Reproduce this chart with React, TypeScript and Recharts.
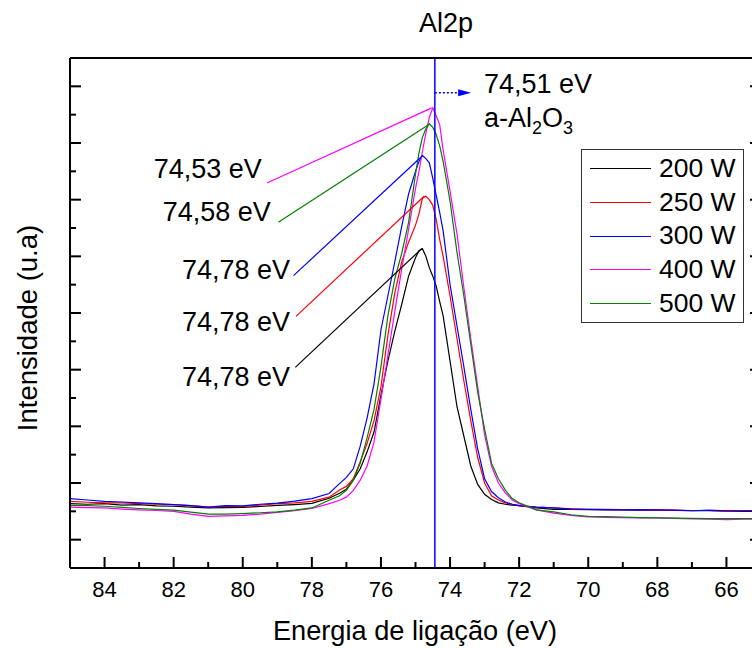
import React from 'react';
import { LineChart, Line, XAxis, YAxis, ReferenceLine, ReferenceDot } from 'recharts';

// binding energy grid (eV)
const energy = [
  85, 84.5, 84, 83.5, 83, 82.5, 82, 81.5, 81, 80.5, 80, 79.5, 79, 78.5, 78, 77.5, 77.2, 77, 76.8, 76.6,
  76.4, 76.2, 76, 75.8, 75.6, 75.4, 75.2, 75, 74.9, 74.8, 74.7, 74.6, 74.5, 74.4, 74.3, 74.2, 74, 73.8,
  73.6, 73.4, 73.2, 73, 72.8, 72.6, 72.4, 72.2, 72, 71.5, 71, 70.5, 70, 69.5, 69, 68.5, 68, 67.5, 67,
  66.5, 66, 65.5, 65,
];

const w200 = [
  2.27, 2.25, 2.27, 2.22, 2.24, 2.19, 2.18, 2.15, 2.12, 2.13, 2.14, 2.17, 2.21, 2.24, 2.28, 2.46, 2.64, 2.78, 3.1, 3.5,
  4.1, 4.8, 6.1, 7.3, 8.35, 9.3, 10.3, 10.95, 11.2, 11.27, 11.0, 10.6, 10.3, 9.95, 9.4, 8.9, 7.3, 5.7,
  4.65, 3.6, 2.95, 2.6, 2.42, 2.3, 2.25, 2.22, 2.2, 2.12, 2.07, 2.07, 2.06, 2.05, 2.05, 2.04, 2.04, 2.03, 2.02,
  2.02, 2.01, 2.0, 2.0,
];

const w250 = [
  2.35, 2.32, 2.3, 2.3, 2.27, 2.25, 2.24, 2.2, 2.15, 2.18, 2.17, 2.22, 2.27, 2.3, 2.35, 2.5, 2.75, 2.88, 3.15, 3.75,
  4.4, 5.2, 6.4, 8.2, 9.7, 10.8, 11.5, 12.1, 12.5, 13.05, 13.12, 13.0, 12.8, 12.3, 11.6, 11.0, 9.6, 8.1,
  6.6, 5.2, 3.9, 3.0, 2.55, 2.4, 2.3, 2.25, 2.2, 2.15, 2.12, 2.09, 2.07, 2.07, 2.06, 2.05, 2.04, 2.04, 2.03,
  2.03, 2.01, 2.02, 2.02,
];

const w300 = [
  2.45, 2.4, 2.35, 2.33, 2.3, 2.27, 2.24, 2.2, 2.15, 2.2, 2.19, 2.25, 2.29, 2.36, 2.45, 2.63, 2.98, 3.2, 3.5, 4.3,
  5.3, 6.5, 8.4, 9.6, 10.8, 12.05, 13.2, 14.0, 14.35, 14.56, 14.45, 14.3, 13.75, 13.15, 12.55, 11.9, 10.0, 8.55,
  7.1, 5.6, 4.2, 3.15, 2.7, 2.48, 2.33, 2.25, 2.2, 2.15, 2.12, 2.08, 2.07, 2.06, 2.05, 2.06, 2.05, 2.04, 2.02,
  2.04, 2.02, 2.02, 2.02,
];

const w400 = [
  2.15, 2.13, 2.12, 2.08, 2.05, 2.03, 2.0, 1.9, 1.82, 1.84, 1.86, 1.9, 1.96, 2.02, 2.1, 2.27, 2.39, 2.5, 2.74, 3.1,
  3.6, 4.45, 5.95, 7.5, 9.05, 10.55, 11.95, 13.4, 14.0, 14.7, 15.35, 15.9, 16.24, 15.95, 15.65, 14.75, 13.3, 11.8,
  9.9, 8.1, 6.4, 4.7, 3.6, 3.0, 2.65, 2.4, 2.27, 2.05, 1.94, 1.86, 1.8, 1.79, 1.78, 1.77, 1.77, 1.75, 1.73,
  1.72, 1.71, 1.72, 1.72,
];

const w500 = [
  2.21, 2.2, 2.18, 2.14, 2.1, 2.07, 2.04, 1.97, 1.9, 1.9, 1.92, 1.95, 1.98, 2.04, 2.12, 2.39, 2.55, 2.74, 3.1, 3.7,
  4.6, 5.6, 7.1, 8.9, 10.2, 11.1, 12.2, 13.9, 14.65, 15.2, 15.5, 15.68, 15.55, 15.3, 14.9, 14.35, 12.95, 11.15,
  9.6, 7.9, 6.2, 4.9, 3.7, 3.15, 2.75, 2.45, 2.3, 2.05, 1.98, 1.88, 1.82, 1.81, 1.8, 1.78, 1.77, 1.76, 1.75,
  1.74, 1.74, 1.74, 1.74,
];

const xTicks = [66, 67, 68, 69, 70, 71, 72, 73, 74, 75, 76, 77, 78, 79, 80, 81, 82, 83, 84];
const yTicks = [1, 2, 3, 4, 5, 6, 7, 8, 9, 10, 11, 12, 13, 14, 15, 16, 17];

// peak annotations
const peakText = ['74,53 eV', '74,58 eV', '74,78 eV', '74,78 eV', '74,78 eV'];
const peakE = [74.53, 74.58, 74.79, 74.75, 74.82];
const peakI = [16.24, 15.68, 14.56, 13.12, 11.27];
const leaderE = [79.3, 78.97, 78.53, 78.46, 78.48];
const leaderI = [13.59, 12.2, 10.32, 8.88, 7.08];
const textE = [79.45, 79.19, 78.63, 78.63, 78.63];
const textI = [13.77, 12.24, 10.2, 8.37, 6.43];
const peakColor = ['#ff00ff', '#008000', '#0000ff', '#ff0000', '#000000'];

const refEnergy = 74.44;

const series = [
  { key: 'w200', name: '200 W', color: '#000000', values: w200 },
  { key: 'w250', name: '250 W', color: '#ff0000', values: w250 },
  { key: 'w300', name: '300 W', color: '#0000ff', values: w300 },
  { key: 'w400', name: '400 W', color: '#ff00ff', values: w400 },
  { key: 'w500', name: '500 W', color: '#008000', values: w500 },
];

const chartData = energy.map((e, i) => {
  const row: any = { e };
  series.forEach((s) => (row[s.key] = s.values[i]));
  return row;
});

const FONT = '"Liberation Sans", Arial, sans-serif';

// plot box in px, used only to drop stray ticks outside the frame
const PLOT_LEFT = 69;
const PLOT_TOP = 56;

const BottomTick = (props: any) => {
  const { x, y, payload } = props;
  if (!(x > PLOT_LEFT)) return <g />;
  const major = payload.value % 2 === 0;
  return (
    <g>
      <line x1={x} x2={x} y1={y} y2={y - (major ? 11 : 6)} stroke="#000" strokeWidth={2} />
      {major && (
        <text x={x} y={y + 29} textAnchor="middle" fontSize={22} fill="#000" fontFamily={FONT}>
          {payload.value}
        </text>
      )}
    </g>
  );
};

const TopTick = (props: any) => {
  const { x, y, payload } = props;
  if (!(x > PLOT_LEFT)) return <g />;
  const major = payload.value % 2 === 0;
  return <line x1={x} x2={x} y1={y} y2={y + (major ? 11 : 6)} stroke="#000" strokeWidth={2} />;
};

const LeftTick = (props: any) => {
  const { x, y, payload } = props;
  if (!(y > PLOT_TOP)) return <g />;
  const major = payload.value % 2 === 1;
  return <line x1={x} x2={x + (major ? 11 : 6)} y1={y} y2={y} stroke="#000" strokeWidth={2} />;
};

const RightTick = (props: any) => {
  const { x, y, payload } = props;
  if (!(y > PLOT_TOP)) return <g />;
  const major = payload.value % 2 === 1;
  return <line x1={x} x2={x - (major ? 11 : 6)} y1={y} y2={y} stroke="#000" strokeWidth={2} />;
};

export default function App() {
  return (
    <div
      style={{
        position: 'fixed',
        left: 0,
        top: 0,
        width: 752,
        height: 648,
        overflow: 'hidden',
        background: '#fff',
        fontFamily: FONT,
      }}
    >
      <LineChart width={780} height={648} data={chartData} margin={{ top: 57, right: 0, bottom: 0, left: 0 }}>
        <XAxis
          dataKey="e"
          type="number"
          domain={[65, 85]}
          reversed
          allowDataOverflow
          ticks={xTicks}
          interval={0}
          tickSize={0}
          tickMargin={0}
          tick={<BottomTick />}
          axisLine={{ stroke: '#000', strokeWidth: 2 }}
          height={80}
        />
        <XAxis
          xAxisId="top"
          orientation="top"
          type="number"
          domain={[65, 85]}
          reversed
          allowDataOverflow
          ticks={xTicks}
          interval={0}
          tickSize={0}
          tickMargin={0}
          tick={<TopTick />}
          axisLine={{ stroke: '#000', strokeWidth: 2 }}
          height={1}
        />
        <YAxis
          type="number"
          domain={[0, 18]}
          allowDataOverflow
          ticks={yTicks}
          interval={0}
          tickSize={0}
          tickMargin={0}
          tick={<LeftTick />}
          axisLine={{ stroke: '#000', strokeWidth: 2 }}
          width={70}
        />
        <YAxis
          yAxisId="right"
          orientation="right"
          type="number"
          domain={[0, 18]}
          allowDataOverflow
          ticks={yTicks}
          interval={0}
          tickSize={0}
          tickMargin={0}
          tick={<RightTick />}
          axisLine={{ stroke: '#000', strokeWidth: 2 }}
          width={19}
        />

        {series.map((s) => (
          <Line
            key={s.key}
            type="linear"
            dataKey={s.key}
            name={s.name}
            stroke={s.color}
            strokeWidth={1.2}
            dot={false}
            isAnimationActive={false}
          />
        ))}

        <ReferenceLine x={refEnergy} stroke="#0000ff" strokeWidth={1.5} />
        <ReferenceLine
          segment={[
            { x: refEnergy, y: 16.77 },
            { x: 73.76, y: 16.77 },
          ]}
          stroke="#0000ff"
          strokeWidth={1.5}
          strokeDasharray="2 2"
        />
        <ReferenceDot
          x={73.39}
          y={16.77}
          r={0}
          shape={(p: any) => (
            <polygon
              points={`${p.cx - 13},${p.cy - 3.5} ${p.cx},${p.cy} ${p.cx - 13},${p.cy + 3.5}`}
              fill="#0000ff"
            />
          )}
        />
        <ReferenceDot
          x={73.02}
          y={16.77}
          r={0}
          shape={(p: any) => (
            <g fontFamily={FONT} fill="#000">
              <text x={p.cx} y={p.cy} fontSize={27}>
                74,51 eV
              </text>
              <text x={p.cx} y={p.cy + 34} fontSize={27}>
                a-Al
                <tspan fontSize={18} dy={7}>2</tspan>
                <tspan fontSize={27} dy={-7}>O</tspan>
                <tspan fontSize={18} dy={7}>3</tspan>
              </text>
            </g>
          )}
        />

        {peakText.map((t, i) => (
          <ReferenceLine
            key={'lead' + i}
            segment={[
              { x: leaderE[i], y: leaderI[i] },
              { x: peakE[i], y: peakI[i] },
            ]}
            stroke={peakColor[i]}
            strokeWidth={1.2}
          />
        ))}
        {peakText.map((t, i) => (
          <ReferenceDot
            key={'txt' + i}
            x={textE[i]}
            y={textI[i]}
            r={0}
            shape={(p: any) => (
              <text x={p.cx} y={p.cy} textAnchor="end" fontSize={27} fill="#000" fontFamily={FONT}>
                {t}
              </text>
            )}
          />
        ))}
      </LineChart>

      <svg width={752} height={648} style={{ position: 'absolute', left: 0, top: 0, pointerEvents: 'none' }}>
        <text x={446} y={32} textAnchor="middle" fontSize={27} fontFamily={FONT} fill="#000">
          Al2p
        </text>
        <text x={415} y={640} textAnchor="middle" fontSize={27.2} fontFamily={FONT} fill="#000">
          Energia de ligação (eV)
        </text>
        <text
          transform="translate(37, 328) rotate(-90)"
          textAnchor="middle"
          fontSize={27.5}
          fontFamily={FONT}
          fill="#000"
        >
          Intensidade (u.a)
        </text>
      </svg>

      <div
        style={{
          position: 'absolute',
          left: 581,
          top: 149,
          width: 163,
          boxSizing: 'border-box',
          border: '1.5px solid #333',
          padding: '2px 0',
          background: '#fff',
        }}
      >
        {series.map((s) => (
          <div key={s.key} style={{ display: 'flex', alignItems: 'center', height: 33.7 }}>
            <div style={{ width: 61, marginLeft: 8, borderTop: `1.5px solid ${s.color}` }} />
            <span style={{ marginLeft: 8, fontSize: 26.5, lineHeight: '33.7px', color: '#000' }}>{s.name}</span>
          </div>
        ))}
      </div>
    </div>
  );
}
